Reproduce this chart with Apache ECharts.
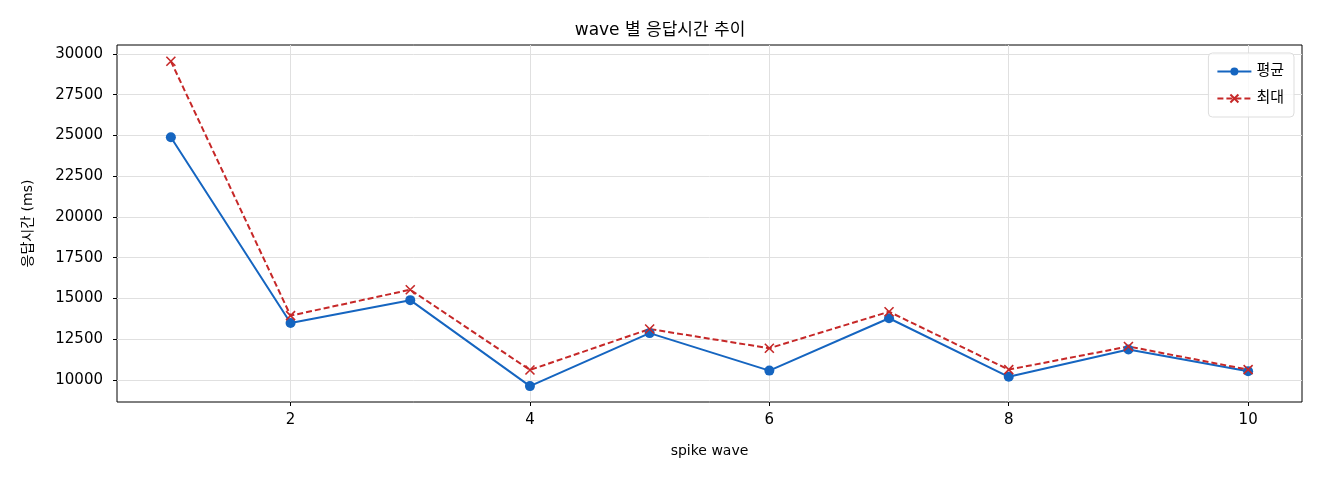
<!DOCTYPE html>
<html>
<head>
<meta charset="utf-8">
<script src="https://cdn.jsdelivr.net/npm/echarts@6/dist/echarts.min.js"></script>
<style>
html,body{margin:0;padding:0;background:#fff;}
#chart{width:1320px;height:480px;}
</style>
</head>
<body>
<div id="chart"></div>
<script>
// wave 별 응답시간 (ms)
const waves=[1,2,3,4,5,6,7,8,9,10];
const avgMs=[24890,13500,14900,9630,12880,10580,13790,10200,11870,10540];
const maxMs=[29550,13950,15540,10620,13130,11950,14190,10640,12060,10640];
const xTicks=[2,4,6,8,10];
const yTicks=[10000,12500,15000,17500,20000,22500,25000,27500,30000];

const FONT="'DejaVu Sans','Noto Sans CJK KR',sans-serif";
const CROSS="path://M0,0L10,10M10,0L0,10";

const chart=echarts.init(document.getElementById("chart"));

chart.setOption({
    animation:false,
    textStyle:{fontFamily:FONT},
    title:{
        text:"wave 별 응답시간 추이",
        left:"center",
        top:17,
        textStyle:{fontSize:17,fontWeight:"normal",color:"#000",fontFamily:FONT}
    },
    grid:{
        left:117,
        right:18,
        top:45,
        bottom:78,
        show:true,
        borderColor:"#000",
        borderWidth:1,
        containLabel:false
    },
    legend:{
        right:26,
        top:53,
        orient:"vertical",
        itemWidth:34,
        itemHeight:10,
        itemGap:12,
        padding:[11,10,11,8],
        borderColor:"#dddddd",
        borderWidth:1,
        borderRadius:4,
        backgroundColor:"rgba(255,255,255,0.8)",
        textStyle:{fontSize:15,color:"#000",fontFamily:FONT},
        data:["평균","최대"]
    },
    xAxis:{
        type:"value",
        min:0.55,
        max:10.45,
        name:"spike wave",
        nameLocation:"middle",
        nameGap:42,
        nameTextStyle:{fontSize:14,color:"#000"},
        axisLine:{show:false},
        axisTick:{show:true,length:4,lineStyle:{color:"#000"},customValues:xTicks},
        axisLabel:{fontSize:15,color:"#000",margin:11,customValues:xTicks},
        splitLine:{show:true,lineStyle:{color:"#e0e0e0",width:1}}
    },
    yAxis:{
        type:"value",
        min:8655,
        max:30545,
        name:"응답시간 (ms)",
        nameLocation:"middle",
        nameGap:82,
        nameRotate:90,
        nameTextStyle:{fontSize:14,color:"#000"},
        axisLine:{show:false},
        axisTick:{show:true,length:4,lineStyle:{color:"#000"},customValues:yTicks},
        axisLabel:{fontSize:15,color:"#000",margin:14,customValues:yTicks,formatter:v=>String(v)},
        splitLine:{show:true,lineStyle:{color:"#e0e0e0",width:1}}
    },
    series:[
        {
            name:"평균",
            type:"line",
            data:waves.map((w,i)=>[w,avgMs[i]]),
            symbol:"circle",
            symbolSize:10,
            showAllSymbol:true,
            lineStyle:{color:"#1565c0",width:2},
            itemStyle:{color:"#1565c0"}
        },
        {
            name:"최대",
            type:"line",
            data:waves.map((w,i)=>[w,maxMs[i]]),
            symbol:CROSS,
            symbolSize:9,
            showAllSymbol:true,
            lineStyle:{color:"#c62828",width:2,type:[6,3]},
            itemStyle:{color:"#c62828",borderColor:"#c62828",borderWidth:1.6}
        }
    ]
});

window.addEventListener("resize",()=>chart.resize());
</script>
</body>
</html>
